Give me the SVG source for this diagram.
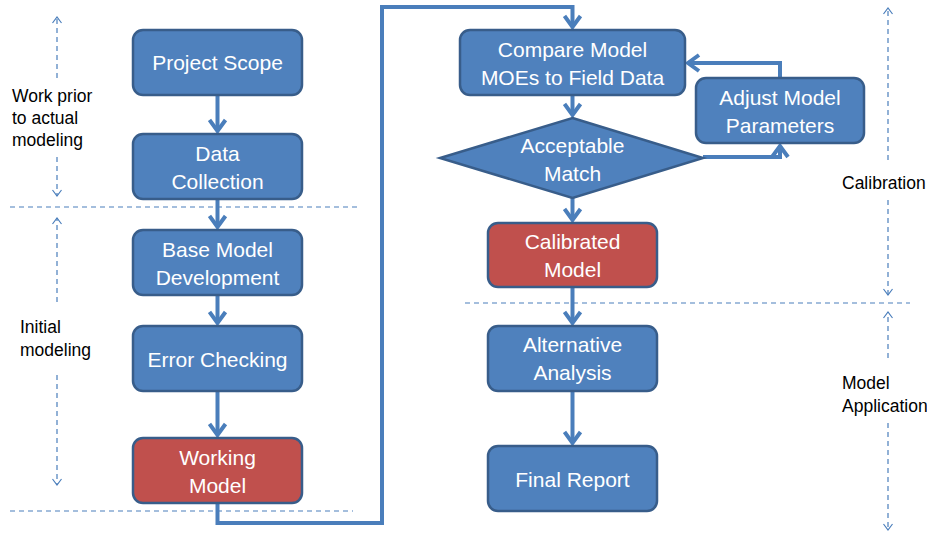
<svg xmlns="http://www.w3.org/2000/svg" width="927" height="535" viewBox="0 0 927 535">
<defs>
<style>
.box{fill:#4F81BD;stroke:#385D8A;stroke-width:2.5}
.red{fill:#C0504D;stroke:#385D8A;stroke-width:2.5}
.t{font-family:"Liberation Sans",Arial,sans-serif;font-size:21px;fill:#FFFFFF;text-anchor:middle}
.lbl{font-family:"Liberation Sans",Arial,sans-serif;font-size:17.5px;fill:#000000}
.con{fill:none;stroke:#4A7EBB;stroke-width:4;marker-end:url(#arr)}
.dash{fill:none;stroke:#4A7EBB;stroke-width:1.2;stroke-dasharray:5 4}
.darr{fill:none;stroke:#4A7EBB;stroke-width:1.2;stroke-dasharray:5 4}
</style>
<marker id="arr" markerUnits="userSpaceOnUse" viewBox="-14 -10 16 20" refX="0" refY="0" markerWidth="16" markerHeight="20" orient="auto">
<path d="M-11,-8 L0,0 L-11,8" fill="none" stroke="#4A7EBB" stroke-width="4"/>
</marker>
<marker id="sa" markerUnits="userSpaceOnUse" viewBox="-8 -6 10 12" refX="0" refY="0" markerWidth="10" markerHeight="12" orient="auto">
<path d="M-6,-4.5 L0,0 L-6,4.5" fill="none" stroke="#4A7EBB" stroke-width="1.2"/>
</marker>
</defs>

<g id="guides">
<path class="dash" d="M10 207 H360"/>
<path class="dash" d="M10 511 H353"/>
<path class="dash" d="M465 303 H910"/>
<path class="darr" d="M57 78 V17" marker-end="url(#sa)"/>
<path class="darr" d="M57 157 V196" marker-end="url(#sa)"/>
<path class="darr" d="M57 302 V218" marker-end="url(#sa)"/>
<path class="darr" d="M57 375 V485" marker-end="url(#sa)"/>
<path class="darr" d="M888 160 V8" marker-end="url(#sa)"/>
<path class="darr" d="M888 200 V295" marker-end="url(#sa)"/>
<path class="darr" d="M888 358 V312" marker-end="url(#sa)"/>
<path class="darr" d="M888 423 V530" marker-end="url(#sa)"/>
<text class="lbl" x="12" y="102">Work prior</text>
<text class="lbl" x="12" y="124">to actual</text>
<text class="lbl" x="12" y="146">modeling</text>
<text class="lbl" x="20" y="333">Initial</text>
<text class="lbl" x="20" y="356">modeling</text>
<text class="lbl" x="842" y="189">Calibration</text>
<text class="lbl" x="842" y="389">Model</text>
<text class="lbl" x="842" y="412">Application</text>
</g>

<g id="connectors">
<path class="con" d="M217.5 95 V131"/>
<path class="con" d="M217.5 199 V227"/>
<path class="con" d="M217.5 295 V323"/>
<path class="con" d="M217.5 391 V435"/>
<path class="con" d="M217.5 503 V523 H382 V7 H572.5 V27"/>
<path class="con" d="M572.5 95 V115"/>
<path class="con" d="M572.5 198 V220"/>
<path class="con" d="M572.5 287 V323"/>
<path class="con" d="M572.5 391 V443"/>
<path class="con" d="M780 78 V63 H688"/>
<path class="con" d="M703 157 H780 V146"/>
</g>

<g id="project-scope">
<rect class="box" x="133" y="30" width="169" height="65" rx="10"/>
<text class="t" x="217.5" y="70">Project Scope</text>
</g>
<g id="data-collection">
<rect class="box" x="133" y="134" width="169" height="65" rx="10"/>
<text class="t" x="217.5" y="161">Data</text>
<text class="t" x="217.5" y="189">Collection</text>
</g>
<g id="base-model">
<rect class="box" x="133" y="230" width="169" height="65" rx="10"/>
<text class="t" x="217.5" y="257">Base Model</text>
<text class="t" x="217.5" y="285">Development</text>
</g>
<g id="error-checking">
<rect class="box" x="133" y="326" width="169" height="65" rx="10"/>
<text class="t" x="217.5" y="367">Error Checking</text>
</g>
<g id="working-model">
<rect class="red" x="133" y="438" width="169" height="65" rx="10"/>
<text class="t" x="217.5" y="465">Working</text>
<text class="t" x="217.5" y="493">Model</text>
</g>
<g id="compare-model">
<rect class="box" x="460" y="30" width="225" height="65" rx="10"/>
<text class="t" x="572.5" y="57">Compare Model</text>
<text class="t" x="572.5" y="85">MOEs to Field Data</text>
</g>
<g id="acceptable-match">
<polygon class="box" points="572.5,118 703,158 572.5,198 440,158"/>
<text class="t" x="572.5" y="153">Acceptable</text>
<text class="t" x="572.5" y="181">Match</text>
</g>
<g id="adjust-model">
<rect class="box" x="696" y="78" width="168" height="65" rx="10"/>
<text class="t" x="780" y="105">Adjust Model</text>
<text class="t" x="780" y="133">Parameters</text>
</g>
<g id="calibrated-model">
<rect class="red" x="488" y="223" width="169" height="64" rx="10"/>
<text class="t" x="572.5" y="249">Calibrated</text>
<text class="t" x="572.5" y="277">Model</text>
</g>
<g id="alternative-analysis">
<rect class="box" x="488" y="326" width="169" height="65" rx="10"/>
<text class="t" x="572.5" y="352">Alternative</text>
<text class="t" x="572.5" y="380">Analysis</text>
</g>
<g id="final-report">
<rect class="box" x="488" y="446" width="169" height="65" rx="10"/>
<text class="t" x="572.5" y="487">Final Report</text>
</g>
</svg>
